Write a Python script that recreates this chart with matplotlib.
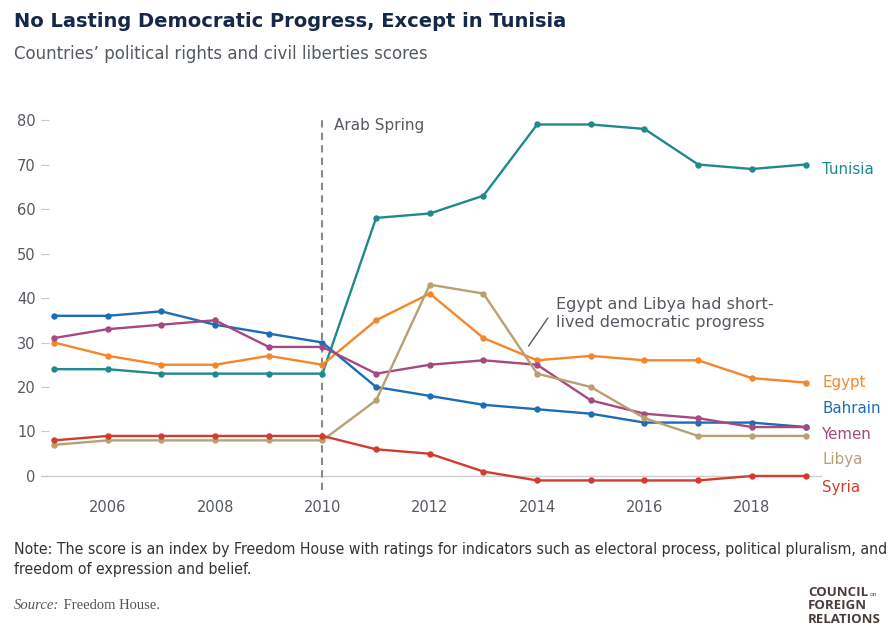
import matplotlib.pyplot as plt
import numpy as np

years = list(range(2005, 2020))

tunisia = [24, 24, 23, 23, 23, 23, 58, 59, 63, 79, 79, 78, 70, 69, 70]
egypt = [30, 27, 25, 25, 27, 25, 35, 41, 31, 26, 27, 26, 26, 22, 21]
bahrain = [36, 36, 37, 34, 32, 30, 20, 18, 16, 15, 14, 12, 12, 12, 11]
yemen = [31, 33, 34, 35, 29, 29, 23, 25, 26, 25, 17, 14, 13, 11, 11]
libya = [7, 8, 8, 8, 8, 8, 17, 43, 41, 23, 20, 13, 9, 9, 9]
syria = [8, 9, 9, 9, 9, 9, 6, 5, 1, -1, -1, -1, -1, 0, 0]

countries = ['Tunisia', 'Egypt', 'Bahrain', 'Yemen', 'Libya', 'Syria']
series = [tunisia, egypt, bahrain, yemen, libya, syria]
colors = ['#1f8a8c', '#f5862a', '#1c6db6', '#a5497f', '#b9a073', '#d23c2e']
# where each end label sits on the y axis
label_y = [68.8, 21.1, 15.1, 9.4, 3.6, -2.5]

sans = 'DejaVu Sans'
grey = '#555a60'

fig = plt.figure(figsize=(8.95, 6.26), dpi=100)
ax = fig.add_axes([0.046, 0.2169, 0.872, 0.5949])

for name, vals, c in zip(countries, series, colors):
    ax.plot(years, vals, color=c, linewidth=1.7, marker='o', markersize=3.6, zorder=3)

ax.axhline(0, color='#cfcfcf', linewidth=1, zorder=1)
ax.axvline(2010, color='#8a8a8a', linewidth=1.5, linestyle=(0, (3.5, 2.5)), zorder=2)

ax.set_xlim(2004.76, 2019.30)
ax.set_ylim(-3.2, 80.5)
ax.set_xticks([2006, 2008, 2010, 2012, 2014, 2016, 2018])
ax.set_yticks(np.arange(0, 81, 10))
ax.tick_params(axis='x', length=0, pad=7, labelsize=10.5, labelcolor=grey)
ax.tick_params(axis='y', direction='in', length=6, color='#c8c8c8', pad=4,
               labelsize=10.5, labelcolor=grey)
for lab in ax.get_xticklabels() + ax.get_yticklabels():
    lab.set_family(sans)
for s in ax.spines.values():
    s.set_visible(False)

for name, ly, c in zip(countries, label_y, colors):
    ax.text(2019.31, ly, name, color=c, fontsize=10.8, family=sans,
            va='center', ha='left', clip_on=False)

ax.text(2010.22, 78.8, 'Arab Spring', color=grey, fontsize=11, family=sans, va='center')

ax.text(2014.35, 40.3, 'Egypt and Libya had short-\nlived democratic progress',
        color=grey, fontsize=11.5, family=sans, va='top', ha='left', linespacing=1.25)
ax.annotate('', xy=(2013.84, 29.2), xytext=(2014.2, 35.5),
            arrowprops=dict(arrowstyle='-', color=grey, lw=1, shrinkA=0, shrinkB=0))

fig.text(0.016, 0.965, 'No Lasting Democratic Progress, Except in Tunisia',
         fontsize=14, fontweight='bold', color='#14294a', family=sans, va='center')
fig.text(0.016, 0.914, 'Countries\u2019 political rights and civil liberties scores',
         fontsize=12, color=grey, family=sans, va='center')

note = ('Note: The score is an index by Freedom House with ratings for indicators such as '
        'electoral process, political pluralism, and',
        'freedom of expression and belief.')
for line, yf in zip(note, [0.123, 0.091]):
    fig.text(0.016, yf, line, fontsize=11.3, color='#333333', family='DejaVu Sans',
             stretch='condensed', va='center')

# italic "Source:" followed by the upright source name
src = fig.text(0.016, 0.032, 'Source:', fontsize=10.5, color='#555555', style='italic',
               family='Liberation Serif', va='center')
ax.annotate(' Freedom House.', xy=(1, 0.5), xycoords=src, va='center', ha='left',
            fontsize=10.5, color='#555555', family='Liberation Serif',
            annotation_clip=False)

logo = '#4a3c38'
logo_font = ['Open Sans', 'DejaVu Sans']
fig.text(0.903, 0.054, 'COUNCIL', fontsize=9.5, fontweight='bold', color=logo,
         family=logo_font, va='center')
fig.text(0.972, 0.050, 'on', fontsize=4.5, color=logo, family=logo_font, va='center')
fig.text(0.903, 0.032, 'FOREIGN', fontsize=9.5, fontweight='bold', color=logo,
         family=logo_font, va='center')
fig.text(0.903, 0.010, 'RELATIONS', fontsize=9.5, fontweight='bold', color=logo,
         family=logo_font, va='center')

fig.savefig('out.png', dpi=100)
